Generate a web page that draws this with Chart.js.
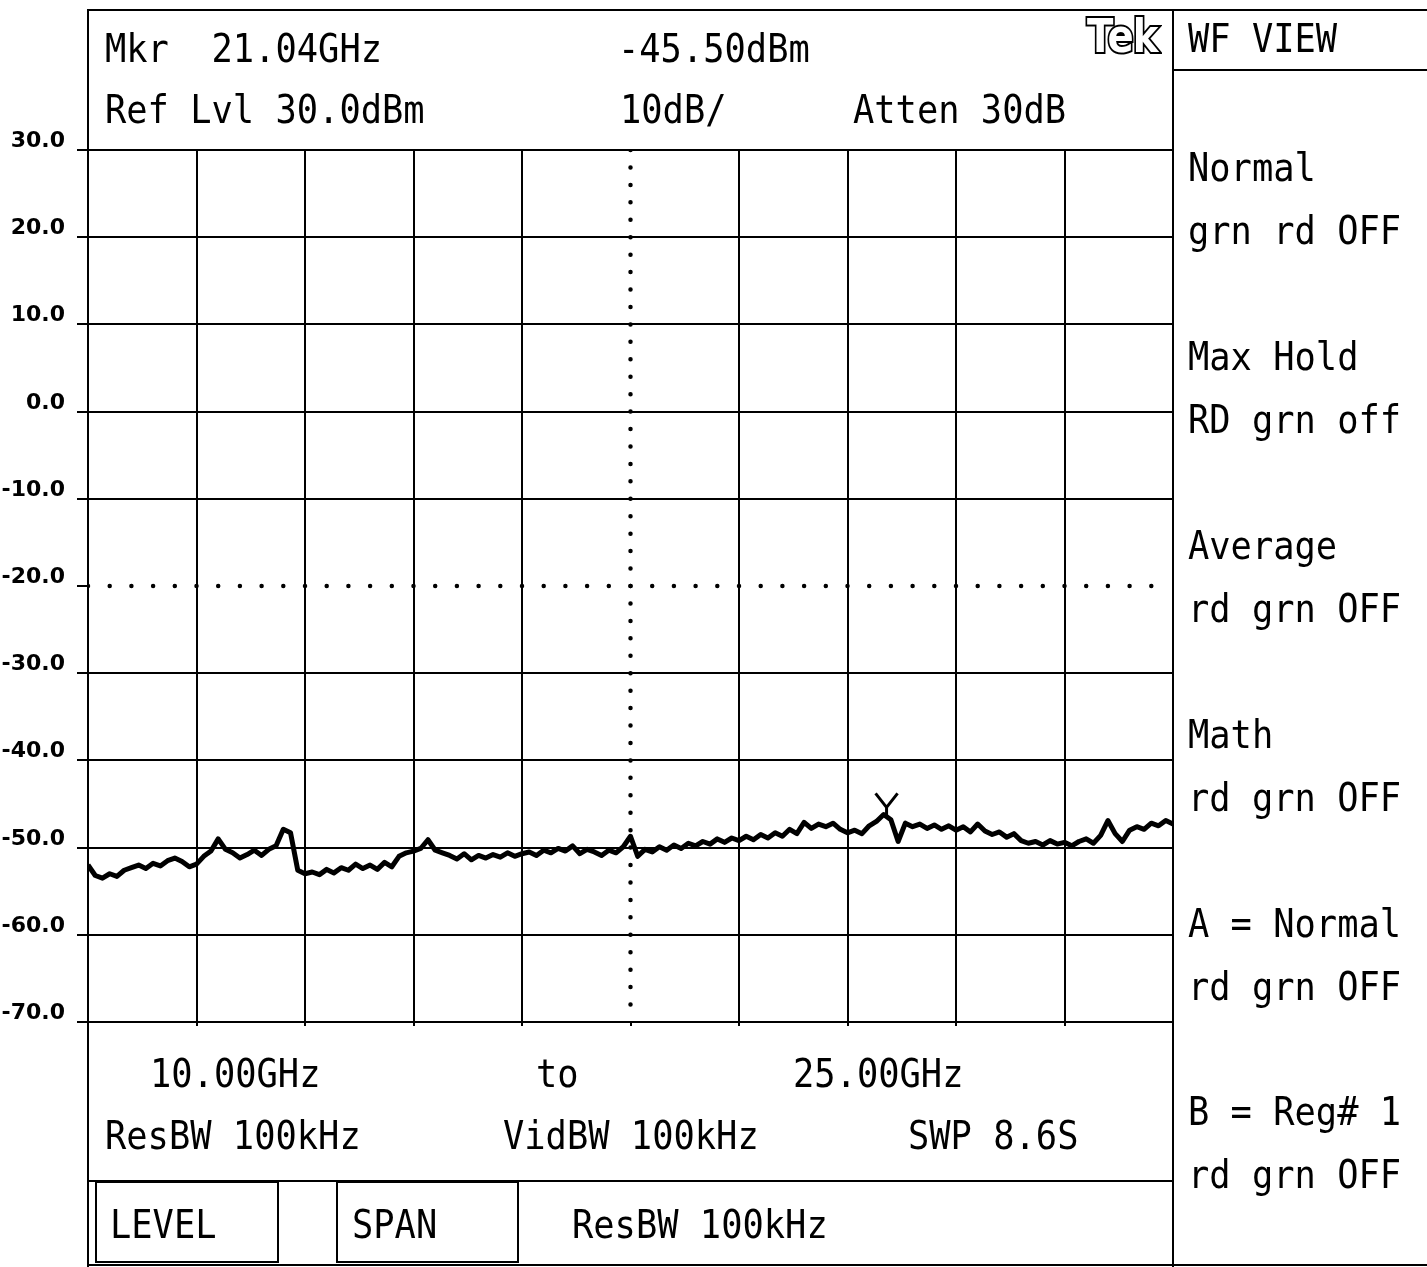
<!DOCTYPE html>
<html>
<head>
<meta charset="utf-8">
<title>WF VIEW 10.00GHz to 25.00GHz</title>
<script src="https://cdn.jsdelivr.net/npm/chart.js@4.4.1/dist/chart.umd.min.js"></script>
<style>
html, body { margin: 0; padding: 0; background: #fff; }
#screen { position: relative; width: 1427px; height: 1267px; overflow: hidden; background: #fff; }
#plot { position: absolute; left: 0; top: 0; }
.t { position: absolute; font-family: 'DejaVu Sans Mono', monospace; font-size: 35.4px; line-height: 35.4px; height: 36px;
     white-space: pre; color: #000; transform-origin: 0 30px; transform: scaleY(1.1); }
.ln { position: absolute; background: #000; }
.box { position: absolute; border: 2px solid #000; box-sizing: border-box; }
#tek { position: absolute; left: 1087px; top: 13px; font-family: 'DejaVu Sans', sans-serif; font-weight: bold; font-size: 46px;
       line-height: 46px; color: #fff; -webkit-text-stroke: 4px #000; paint-order: stroke fill;
       transform-origin: 0 0; transform: scaleX(0.84); letter-spacing: -1px; }
</style>
</head>
<body>
<div id="screen">
  <canvas id="plot" width="1427" height="1267"></canvas>

  <!-- frame -->
  <div class="ln" style="left:87px;top:9px;width:1340px;height:2px"></div>
  <div class="ln" style="left:87px;top:9px;width:2px;height:1258px"></div>
  <div class="ln" style="left:1172px;top:9px;width:2px;height:1258px"></div>
  <div class="ln" style="left:1173px;top:69px;width:254px;height:2px"></div>
  <div class="ln" style="left:88px;top:1180px;width:1085px;height:2px"></div>
  <div class="ln" style="left:88px;top:1264px;width:1339px;height:2px"></div>
  <div class="box" style="left:95px;top:1181px;width:184px;height:82px"></div>
  <div class="box" style="left:336px;top:1181px;width:183px;height:82px"></div>

  <!-- header -->
  <div class="t" style="left:105px;top:32px">Mkr  21.04GHz</div>
  <div class="t" style="left:618px;top:32px">-45.50dBm</div>
  <div class="t" style="left:105px;top:93px">Ref Lvl 30.0dBm</div>
  <div class="t" style="left:620px;top:93px">10dB/</div>
  <div class="t" style="left:853px;top:93px">Atten 30dB</div>
  <div id="tek">Tek</div>

  <!-- side menu -->
  <div class="t" style="left:1188px;top:22px">WF VIEW</div>
  <div class="t" style="left:1188px;top:151px">Normal</div>
  <div class="t" style="left:1188px;top:214px">grn rd OFF</div>
  <div class="t" style="left:1188px;top:340px">Max Hold</div>
  <div class="t" style="left:1188px;top:403px">RD grn off</div>
  <div class="t" style="left:1188px;top:529px">Average</div>
  <div class="t" style="left:1188px;top:592px">rd grn OFF</div>
  <div class="t" style="left:1188px;top:718px">Math</div>
  <div class="t" style="left:1188px;top:781px">rd grn OFF</div>
  <div class="t" style="left:1188px;top:907px">A = Normal</div>
  <div class="t" style="left:1188px;top:970px">rd grn OFF</div>
  <div class="t" style="left:1188px;top:1095px">B = Reg# 1</div>
  <div class="t" style="left:1188px;top:1158px">rd grn OFF</div>

  <!-- footer -->
  <div class="t" style="left:150px;top:1057px">10.00GHz</div>
  <div class="t" style="left:536px;top:1057px">to</div>
  <div class="t" style="left:793px;top:1057px">25.00GHz</div>
  <div class="t" style="left:105px;top:1119px">ResBW 100kHz</div>
  <div class="t" style="left:503px;top:1119px">VidBW 100kHz</div>
  <div class="t" style="left:908px;top:1119px">SWP 8.6S</div>
  <div class="t" style="left:110px;top:1208px">LEVEL</div>
  <div class="t" style="left:352px;top:1208px">SPAN</div>
  <div class="t" style="left:572px;top:1208px">ResBW 100kHz</div>
</div>

<script>
// sweep settings (GHz) and screen scale (dBm)
const sweepStart = 10.0;
const sweepStep = 0.1;
const freqGrid = [10, 11.5, 13, 14.5, 16, 17.5, 19, 20.5, 22, 23.5, 25];
const levelGrid = [30, 20, 10, 0, -10, -20, -30, -40, -50, -60, -70];
const centerFreq = 17.5;
const dottedLevel = -20;
const markerFreq = 21.04;
const markerLevel = -45.5;

// trace, one value per 0.1 GHz
const traceDbm = [
  -52.0, -53.2, -53.5, -53.0, -53.3, -52.6, -52.3, -52.0, -52.4, -51.8,
  -52.1, -51.5, -51.2, -51.6, -52.2, -51.9, -51.0, -50.4, -49.0, -50.2,
  -50.6, -51.2, -50.8, -50.3, -50.9, -50.2, -49.8, -47.9, -48.3, -52.6,
  -53.0, -52.8, -53.1, -52.5, -52.9, -52.3, -52.6, -51.9, -52.4, -52.0,
  -52.5, -51.7, -52.2, -51.0, -50.6, -50.4, -50.1, -49.1, -50.3, -50.6,
  -50.9, -51.3, -50.7, -51.4, -50.9, -51.2, -50.8, -51.1, -50.6, -51.0,
  -50.7, -50.5, -50.9, -50.3, -50.6, -50.1, -50.4, -49.8, -50.7, -50.2,
  -50.5, -50.9, -50.3, -50.6, -49.9, -48.7, -51.0, -50.2, -50.5, -49.9,
  -50.3, -49.7, -50.1, -49.5, -49.8, -49.3, -49.6, -49.0, -49.4, -48.9,
  -49.2, -48.7, -49.1, -48.5, -48.9, -48.3, -48.7, -47.9, -48.4, -47.1,
  -47.8, -47.3, -47.6, -47.2, -47.9, -48.3, -48.0, -48.4, -47.5, -47.0,
  -46.2, -46.8, -49.3, -47.2, -47.6, -47.3, -47.8, -47.4, -47.9, -47.5,
  -48.0, -47.6, -48.2, -47.3, -48.1, -48.5, -48.2, -48.8, -48.4, -49.2,
  -49.5, -49.3, -49.7, -49.2, -49.6, -49.4, -49.8, -49.3, -49.0, -49.5,
  -48.6, -46.9, -48.4, -49.3, -48.0, -47.6, -47.9, -47.2, -47.5, -46.9,
  -47.3
];

const tracePoints = traceDbm.map((v, i) => ({ x: +(sweepStart + i * sweepStep).toFixed(2), y: v }));
const fMin = freqGrid[0], fMax = freqGrid[freqGrid.length - 1];
const dMax = levelGrid[0], dMin = levelGrid[levelGrid.length - 1];

// the "Y" marker symbol
const markerPlugin = {
  id: 'mkr',
  afterDatasetsDraw(chart) {
    const c = chart.ctx;
    const px = chart.scales.x.getPixelForValue(markerFreq);
    const py = chart.scales.y.getPixelForValue(markerLevel);
    c.save();
    c.strokeStyle = '#000';
    c.lineWidth = 3;
    c.beginPath();
    c.moveTo(px - 11, py - 15);
    c.lineTo(px, py - 1);
    c.lineTo(px + 11, py - 15);
    c.moveTo(px, py - 1);
    c.lineTo(px, py + 7);
    c.stroke();
    c.restore();
  }
};

new Chart(document.getElementById('plot'), {
  type: 'line',
  data: {
    datasets: [
      {
        data: tracePoints,
        borderColor: '#000',
        borderWidth: 5,
        pointRadius: 0,
        tension: 0,
        borderJoinStyle: 'round'
      },
      {
        data: [{ x: fMin, y: dottedLevel }, { x: fMax, y: dottedLevel }],
        borderColor: '#000',
        borderWidth: 4.5,
        borderDash: [0, 21.7],
        borderCapStyle: 'round',
        pointRadius: 0
      },
      {
        data: [{ x: centerFreq, y: dMax }, { x: centerFreq, y: dMin }],
        borderColor: '#000',
        borderWidth: 4.5,
        borderDash: [0, 17.44],
        borderCapStyle: 'round',
        pointRadius: 0
      }
    ]
  },
  options: {
    responsive: false,
    animation: false,
    events: [],
    layout: { padding: { top: 150, right: 254, bottom: 241, left: 0 } },
    plugins: { legend: { display: false }, tooltip: { enabled: false } },
    scales: {
      x: {
        type: 'linear',
        min: fMin,
        max: fMax,
        afterBuildTicks: s => { s.ticks = freqGrid.map(v => ({ value: v })); },
        afterFit: s => { s.height = 4; },
        ticks: { display: false },
        grid: {
          color: ctx => (ctx.tick && ctx.tick.value === centerFreq) ? 'rgba(0,0,0,0)' : '#000',
          lineWidth: 2,
          drawTicks: true,
          tickLength: 4,
          tickColor: '#000',
          tickWidth: 2
        },
        border: { display: true, color: '#000', width: 2 }
      },
      y: {
        type: 'linear',
        min: dMin,
        max: dMax,
        afterBuildTicks: s => { s.ticks = levelGrid.map(v => ({ value: v })); },
        afterFit: s => { s.width = 88; },
        ticks: {
          color: '#000',
          padding: 12,
          font: { family: 'DejaVu Sans', weight: 'bold', size: 22, lineHeight: 0.8 },
          callback: v => [v.toFixed(1), '']
        },
        grid: {
          color: ctx => (ctx.tick && ctx.tick.value === dottedLevel) ? 'rgba(0,0,0,0)' : '#000',
          lineWidth: 2,
          drawTicks: true,
          tickLength: 11,
          tickColor: '#000',
          tickWidth: 2
        },
        border: { display: true, color: '#000', width: 2 }
      }
    }
  },
  plugins: [markerPlugin]
});
</script>
</body>
</html>
